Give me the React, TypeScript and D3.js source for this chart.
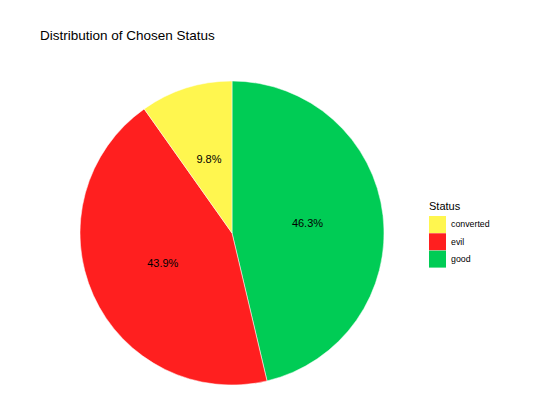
import * as d3 from 'd3';

const categories = ['converted', 'evil', 'good'];
const shares = [9.8, 43.9, 46.3];
const colors = ['#FFF64F', '#FF1F1F', '#00CC55'];
// drawing order clockwise from 12 o'clock
const drawOrder = ['good', 'evil', 'converted'];

export default function App() {
  const width = 543;
  const height = 407;
  const cx = 232;
  const cy = 233;
  const r = 152;

  const color = d3.scaleOrdinal<string, string>().domain(categories).range(colors);
  const data = drawOrder.map(c => ({ cat: c, value: shares[categories.indexOf(c)] }));
  const arcs = d3.pie<{ cat: string; value: number }>().sort(null).value(d => d.value)(data);
  const arc = d3.arc<d3.PieArcDatum<{ cat: string; value: number }>>().innerRadius(0).outerRadius(r);
  const labelArc = d3.arc<d3.PieArcDatum<{ cat: string; value: number }>>().innerRadius(r * 0.5).outerRadius(r * 0.5);

  return (
    <svg width={width} height={height} style={{ position: 'absolute', left: 0, top: 0, fontFamily: 'Liberation Sans, Arial, sans-serif' }}>
      <rect width={width} height={height} fill="#fff" />
      <text x={40} y={40} fontSize={13.5} fill="#000">Distribution of Chosen Status</text>
      <g transform={`translate(${cx},${cy})`}>
        {arcs.map(a => (
          <path key={a.data.cat} d={arc(a) ?? ''} fill={color(a.data.cat)} stroke="#fff" strokeWidth={0.5} />
        ))}
        {arcs.map(a => {
          const [x, y] = labelArc.centroid(a);
          return (
            <text key={a.data.cat} x={x} y={y} textAnchor="middle" dominantBaseline="middle" fontSize={11} fill="#000">
              {a.data.value.toFixed(1)}%
            </text>
          );
        })}
      </g>
      <g transform="translate(429,200)">
        <text x={0} y={10} fontSize={11} fill="#000">Status</text>
        {categories.map((c, i) => (
          <g key={c} transform={`translate(0,${16 + i * 17.3})`}>
            <rect width={17} height={17} fill={color(c)} />
            <text x={22} y={9} dominantBaseline="middle" fontSize={8.8} fill="#000">{c}</text>
          </g>
        ))}
      </g>
    </svg>
  );
}
